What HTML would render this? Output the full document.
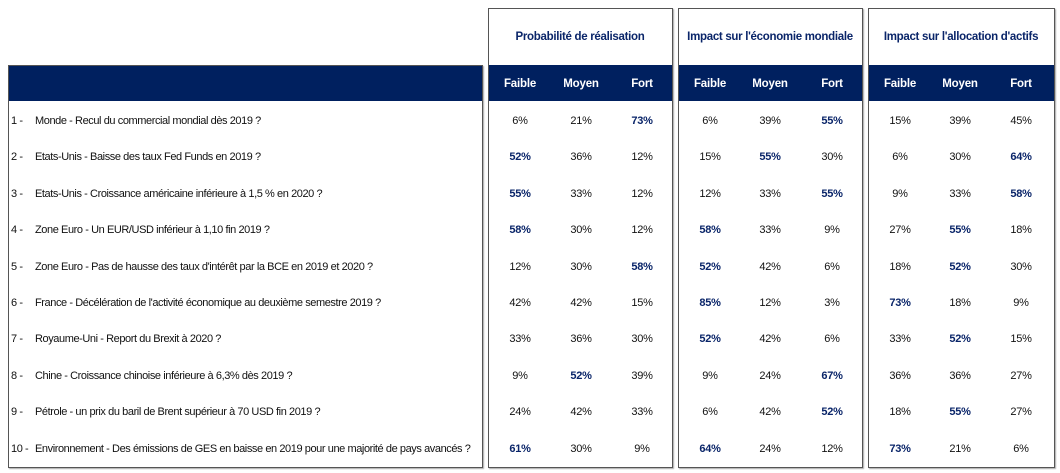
<!DOCTYPE html>
<html><head><meta charset="utf-8"><style>
body{margin:0;width:1060px;height:473px;background:#fff;position:relative;font-family:"Liberation Sans",Arial,sans-serif;overflow:hidden}
.box{position:absolute;border:1px solid #555;box-shadow:1px 1px 1px #aaa;box-sizing:border-box}
.band{position:absolute;background:#00205f;height:36px;top:65px}
.t{position:absolute;font-size:11px;letter-spacing:-0.25px;color:#111;white-space:nowrap;transform:translate(-50%,-50%)}
.l{position:absolute;font-size:11px;letter-spacing:-0.42px;color:#111;white-space:nowrap;transform:translateY(-50%)}
.h{position:absolute;font-size:11.5px;font-weight:bold;color:#0a2569;white-space:nowrap;transform:translate(-50%,-50%);letter-spacing:-0.3px}
.w{position:absolute;font-size:11.5px;font-weight:bold;color:#fff;transform:translate(-50%,-50%);letter-spacing:-0.2px}
.b{font-weight:bold;color:#0a2569}
</style></head><body>
<div class="band" style="left:8px;width:474px"></div>
<div class="box" style="left:8px;top:65px;width:475px;height:403px"></div>
<div class="band" style="left:488px;width:184px"></div>
<div class="box" style="left:488px;top:8px;width:185px;height:460px"></div>
<div class="band" style="left:678px;width:184px"></div>
<div class="box" style="left:678px;top:8px;width:185px;height:460px"></div>
<div class="band" style="left:868px;width:186px"></div>
<div class="box" style="left:868px;top:8px;width:187px;height:460px"></div>
<div class="h" style="left:580px;top:37px">Probabilité de réalisation</div>
<div class="h" style="left:770px;top:37px">Impact sur l'économie mondiale</div>
<div class="h" style="left:961px;top:37px">Impact sur l'allocation d'actifs</div>
<div id="c"></div>
<script>
var xs=[520,581,642,710,770,832,900,960,1021];
var hd=["Faible","Moyen","Fort"];
var s="";
for(var i=0;i<9;i++)s+='<div class="w" style="left:'+xs[i]+'px;top:84px">'+hd[i%3]+'</div>';
var rows=[
["1 -","Monde - Recul du commercial mondial dès 2019 ?","6|21|*73|6|39|*55|15|39|45"],
["2 -","Etats-Unis - Baisse des taux Fed Funds en 2019 ?","*52|36|12|15|*55|30|6|30|*64"],
["3 -","Etats-Unis - Croissance américaine inférieure à 1,5 % en 2020 ?","*55|33|12|12|33|*55|9|33|*58"],
["4 -","Zone Euro - Un EUR/USD inférieur à 1,10 fin 2019 ?","*58|30|12|*58|33|9|27|*55|18"],
["5 -","Zone Euro - Pas de hausse des taux d'intérêt par la BCE en 2019 et 2020 ?","12|30|*58|*52|42|6|18|*52|30"],
["6 -","France - Décélération de l'activité économique au deuxième semestre 2019 ?","42|42|15|*85|12|3|*73|18|9"],
["7 -","Royaume-Uni - Report du Brexit à 2020 ?","33|36|30|*52|42|6|33|*52|15"],
["8 -","Chine - Croissance chinoise inférieure à 6,3% dès 2019 ?","9|*52|39|9|24|*67|36|36|27"],
["9 -","Pétrole - un prix du baril de Brent supérieur à 70 USD fin 2019 ?","24|42|33|6|42|*52|18|*55|27"],
["10 -","Environnement - Des émissions de GES en baisse en 2019 pour une majorité de pays avancés ?","*61|30|9|*64|24|12|*73|21|6"]];
for(var r=0;r<10;r++){
 var y=121+r*36.4;
 s+='<div class="l" style="left:11px;top:'+y+'px">'+rows[r][0]+'</div>';
 s+='<div class="l" style="left:35px;top:'+y+'px">'+rows[r][1]+'</div>';
 var v=rows[r][2].split("|");
 for(var i=0;i<9;i++){var b=v[i][0]=="*";var t=b?v[i].slice(1):v[i];
  s+='<div class="t'+(b?' b':'')+'" style="left:'+xs[i]+'px;top:'+y+'px">'+t+'%</div>';}
}
document.getElementById("c").innerHTML=s;
</script>
</body></html>
